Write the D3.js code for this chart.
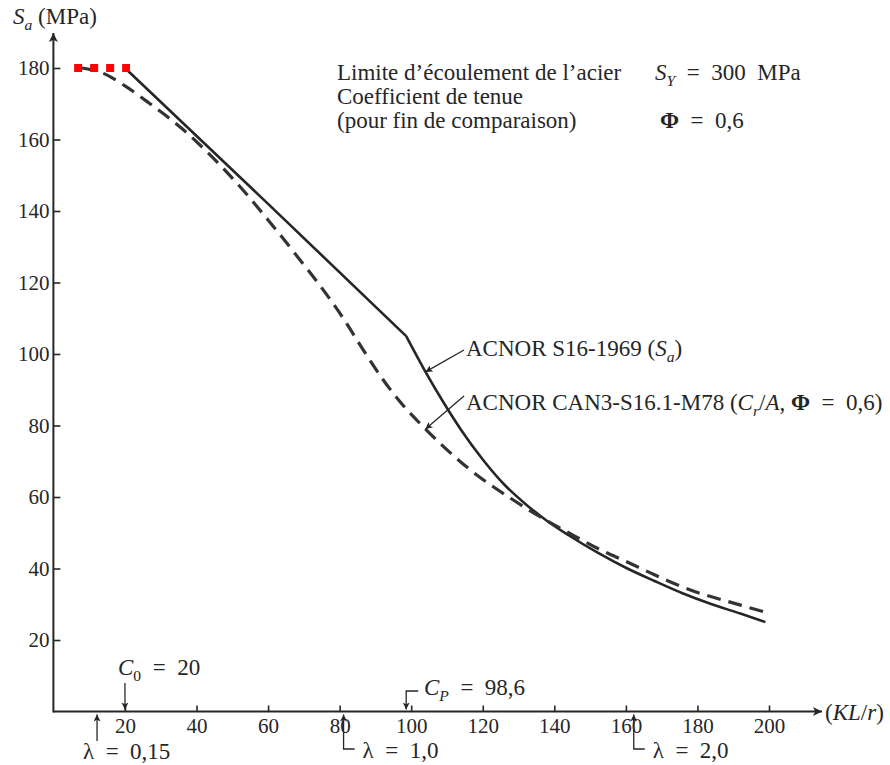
<!DOCTYPE html>
<html><head><meta charset="utf-8">
<script src="https://cdn.jsdelivr.net/npm/d3@7"></script>
<style>
html,body{margin:0;padding:0;background:#fff;}
svg{display:block;font-family:"Liberation Serif","Times New Roman",serif;}
</style></head><body>
<svg id="chart" width="890" height="765"></svg>
<script>
// ---------- data ----------
const xTicks = [20, 40, 60, 80, 100, 120, 140, 160, 180, 200];
const yTicks = [20, 40, 60, 80, 100, 120, 140, 160, 180];

// ACNOR S16-1969 (Sa) — solid
const solidKL = [20, 60, 98.6, 104, 109, 114, 120, 126, 132, 138, 144, 152, 160, 168, 176, 184, 192, 199];
const solidSa = [180, 142, 105, 95, 86.5, 78.7, 70.5, 63.5, 58, 53.3, 49.3, 44.5, 40.2, 36.5, 33, 30, 27.4, 25];

// ACNOR CAN3-S16.1-M78 (Cr/A, Phi = 0,6) — dashed
const dashedKL = [8, 14, 20, 27, 36, 44, 52, 60, 68, 75, 81, 87, 92, 97, 104, 116, 128, 136, 144, 153, 160, 167, 173, 180, 187, 194, 200];
const dashedSa = [180, 178.5, 175, 170, 163, 155.5, 147, 137.5, 127.5, 118.5, 110, 100.5, 93, 86.5, 79, 68, 59.5, 54.5, 50, 45.2, 42, 38.7, 36, 33.3, 31.2, 29.2, 27.5];

// red dotted marker at the 180 MPa plateau
const redKL = [5.8, 21.4];
const redSa = [180, 180];

const C0 = 20;
const CP = 98.6;
const lambdaKL = [12.2, 81.1, 162.2];
const lambdaLabels = ["0,15", "1,0", "2,0"];
const bendKL = 98.6;
const leaderKL = 104;           // where the label leaders touch the curves
const leaderSa = [95, 79];

// ---------- setup ----------
const svg = d3.select("#chart");
const ink = "#262626";
const x = d3.scaleLinear().domain([0, 200]).range([53.4, 769]);
const y = d3.scaleLinear().domain([0, 180]).range([711.5, 68]);

const defs = svg.append("defs");
function marker(id, w, h) {
  defs.append("marker").attr("id", id)
    .attr("viewBox", "0 0 10 10").attr("refX", 10).attr("refY", 5)
    .attr("markerUnits", "userSpaceOnUse").attr("markerWidth", w).attr("markerHeight", h)
    .attr("orient", "auto")
    .append("path").attr("d", "M0,0 L10,5 L0,10 L2.5,5 z").attr("fill", ink);
}
marker("axArrow", 13, 9);
marker("smArrow", 9, 7);

// ---------- axes ----------
const xAxis = d3.axisBottom(x).tickValues(xTicks).tickSizeInner(-6).tickSizeOuter(0).tickPadding(7);
const gx = svg.append("g").attr("transform", `translate(0,${y(0)})`).call(xAxis);
gx.select(".domain").remove();
gx.selectAll(".tick line").attr("stroke", ink).attr("stroke-width", 1.6);
gx.selectAll(".tick text").attr("font-size", 21).attr("fill", ink)
  .attr("font-family", "Liberation Serif");

const yAxis = d3.axisLeft(y).tickValues(yTicks).tickSizeInner(-7).tickSizeOuter(0).tickPadding(4);
const gy = svg.append("g").attr("transform", `translate(${x(0)},0)`).call(yAxis);
gy.select(".domain").remove();
gy.selectAll(".tick line").attr("stroke", ink).attr("stroke-width", 1.6);
gy.selectAll(".tick text").attr("font-size", 21).attr("fill", ink)
  .attr("font-family", "Liberation Serif");

// axis lines with arrows
svg.append("line").attr("x1", x(0)).attr("y1", y(0)).attr("x2", 822).attr("y2", y(0))
  .attr("stroke", ink).attr("stroke-width", 2).attr("marker-end", "url(#axArrow)");
svg.append("line").attr("x1", x(0)).attr("y1", y(0) + 1).attr("x2", x(0)).attr("y2", 33)
  .attr("stroke", ink).attr("stroke-width", 2).attr("marker-end", "url(#axArrow)");

// ---------- rich text helper ----------
function rich(x0, y0, parts, size) {
  const t = svg.append("text").attr("x", x0).attr("y", y0)
    .attr("font-size", size).attr("fill", ink);
  let shift = 0;
  parts.forEach(p => {
    const s = t.append("tspan").text(p.t);
    if (p.it) s.attr("font-style", "italic");
    if (p.b) s.attr("font-weight", "bold");
    const target = p.sub ? size * 0.28 : 0;
    if (target !== shift) { s.attr("dy", target - shift); shift = target; }
    if (p.sub) s.attr("font-size", size * 0.68);
  });
  return t;
}
const E = "\u2002";

// axis titles
rich(13, 24, [{t: "S", it: true}, {t: "a", it: true, sub: true}, {t: " (MPa)"}], 23);
rich(825, 720, [{t: "("}, {t: "KL", it: true}, {t: "/"}, {t: "r", it: true}, {t: ")"}], 23);

// ---------- curves ----------
const solid = solidKL.map((k, i) => [k, solidSa[i]]);
const dashed = dashedKL.map((k, i) => [k, dashedSa[i]]);
const red = redKL.map((k, i) => [k, redSa[i]]);

const lineLin = d3.line().x(d => x(d[0])).y(d => y(d[1])).curve(d3.curveLinear);
const lineMono = d3.line().x(d => x(d[0])).y(d => y(d[1])).curve(d3.curveMonotoneX);

svg.append("path").attr("d", lineLin(solid.filter(d => d[0] <= bendKL)))
  .attr("fill", "none").attr("stroke", ink).attr("stroke-width", 2.6).attr("stroke-linejoin", "round");
svg.append("path").attr("d", lineMono(solid.filter(d => d[0] >= bendKL)))
  .attr("fill", "none").attr("stroke", ink).attr("stroke-width", 2.6).attr("stroke-linejoin", "round");

svg.append("path").attr("d", lineMono(dashed))
  .attr("fill", "none").attr("stroke", "#333").attr("stroke-width", 3.2)
  .attr("stroke-dasharray", "14,8");

svg.append("path").attr("d", lineLin(red))
  .attr("fill", "none").attr("stroke", "#ff0000").attr("stroke-width", 8)
  .attr("stroke-dasharray", "8,8");

// ---------- curve labels ----------
rich(466, 356, [{t: "ACNOR S16-1969 ("}, {t: "S", it: true}, {t: "a", it: true, sub: true}, {t: ")"}], 23);
rich(466, 410, [{t: "ACNOR CAN3-S16.1-M78 ("}, {t: "C", it: true}, {t: "r", it: true, sub: true},
  {t: "/"}, {t: "A", it: true}, {t: ", "}, {t: "\u03A6", b: true}, {t: E + "=" + E + "0,6)"}], 23);
svg.append("line").attr("x1", 464).attr("y1", 350).attr("x2", x(leaderKL)).attr("y2", y(leaderSa[0]))
  .attr("stroke", ink).attr("stroke-width", 1.3).attr("marker-end", "url(#smArrow)");
svg.append("line").attr("x1", 464).attr("y1", 396).attr("x2", x(leaderKL)).attr("y2", y(leaderSa[1]))
  .attr("stroke", ink).attr("stroke-width", 1.3).attr("marker-end", "url(#smArrow)");

// ---------- info block ----------
rich(337, 80, [{t: "Limite d\u2019\u00e9coulement de l\u2019acier"}], 23);
rich(655, 80, [{t: "S", it: true}, {t: "Y", it: true, sub: true}, {t: E + "=" + E + "300" + E + "MPa"}], 23);
rich(337, 104, [{t: "Coefficient de tenue"}], 23);
rich(337, 128, [{t: "(pour fin de comparaison)"}], 23);
rich(660, 128, [{t: "\u03A6", b: true}, {t: E + "=" + E + "0,6"}], 23);

// ---------- bottom annotations ----------
// C0
svg.append("line").attr("x1", x(C0)).attr("y1", 683).attr("x2", x(C0)).attr("y2", y(0) - 2)
  .attr("stroke", ink).attr("stroke-width", 1.3).attr("marker-end", "url(#smArrow)");
rich(118, 675, [{t: "C", it: true}, {t: "0", sub: true}, {t: E + "=" + E + "20"}], 23);

// CP
svg.append("path").attr("d", `M${x(CP) + 12},691 L${x(CP)},691 L${x(CP)},${y(0) - 2}`)
  .attr("fill", "none").attr("stroke", ink).attr("stroke-width", 1.3).attr("marker-end", "url(#smArrow)");
rich(424, 695, [{t: "C", it: true}, {t: "P", it: true, sub: true}, {t: E + "=" + E + "98,6"}], 23);

// lambda marks
lambdaKL.forEach((k, i) => {
  if (i === 0) {
    svg.append("line").attr("x1", x(k)).attr("y1", 741).attr("x2", x(k)).attr("y2", y(0) + 3)
      .attr("stroke", ink).attr("stroke-width", 1.3).attr("marker-end", "url(#smArrow)");
    rich(83, 759, [{t: "\u03BB" + E + "=" + E + lambdaLabels[i]}], 23);
  } else {
    svg.append("path").attr("d", `M${x(k) + 11},749 L${x(k)},749 L${x(k)},${y(0) + 3}`)
      .attr("fill", "none").attr("stroke", ink).attr("stroke-width", 1.3).attr("marker-end", "url(#smArrow)");
    rich(x(k) + 19, 758, [{t: "\u03BB" + E + "=" + E + lambdaLabels[i]}], 23);
  }
});
</script>
</body></html>
